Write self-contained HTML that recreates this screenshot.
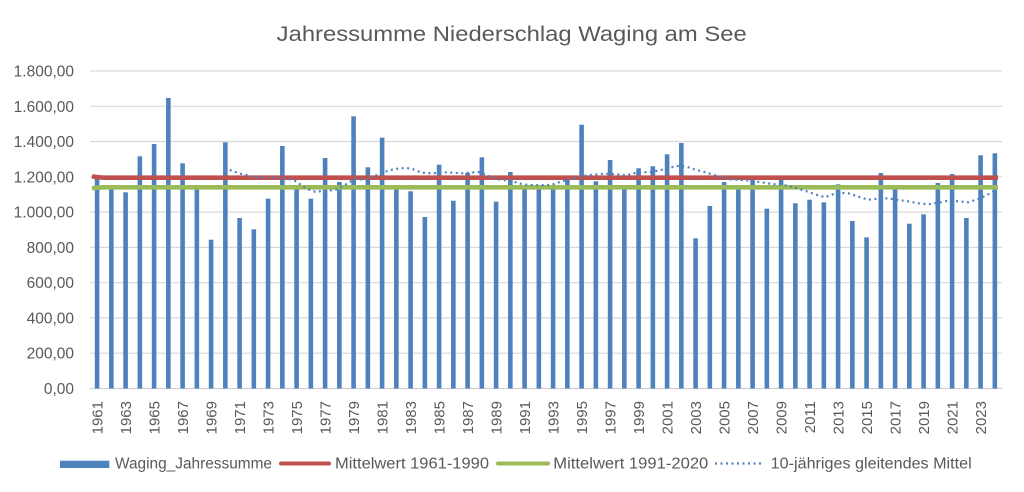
<!DOCTYPE html>
<html><head><meta charset="utf-8"><style>
html,body{margin:0;padding:0;background:#fff;}
svg{display:block;font-family:"Liberation Sans",sans-serif;}
</style></head><body>
<svg width="1024" height="492" viewBox="0 0 1024 492" xmlns="http://www.w3.org/2000/svg">
<rect width="1024" height="492" fill="#fff"/>
<text x="276.7" y="41" font-size="21.5" fill="#595959" textLength="470" lengthAdjust="spacingAndGlyphs">Jahressumme  Niederschlag Waging am See</text>
<g stroke="#d9d9d9" stroke-width="1.2">
<line x1="90" x2="1002" y1="353.2" y2="353.2"/>
<line x1="90" x2="1002" y1="317.9" y2="317.9"/>
<line x1="90" x2="1002" y1="282.7" y2="282.7"/>
<line x1="90" x2="1002" y1="247.4" y2="247.4"/>
<line x1="90" x2="1002" y1="212.1" y2="212.1"/>
<line x1="90" x2="1002" y1="176.8" y2="176.8"/>
<line x1="90" x2="1002" y1="141.5" y2="141.5"/>
<line x1="90" x2="1002" y1="106.3" y2="106.3"/>
<line x1="90" x2="1002" y1="71" y2="71"/>
</g>
<line x1="90" x2="1002" y1="388.5" y2="388.5" stroke="#d0d0d0" stroke-width="1.2"/>
<g font-size="15.5" fill="#595959" text-anchor="end">
<text x="74" y="394">0,00</text>
<text x="74" y="358.7">200,00</text>
<text x="74" y="323.4">400,00</text>
<text x="74" y="288.2">600,00</text>
<text x="74" y="252.9">800,00</text>
<text x="74" y="217.6">1.000,00</text>
<text x="74" y="182.3">1.200,00</text>
<text x="74" y="147">1.400,00</text>
<text x="74" y="111.8">1.600,00</text>
<text x="74" y="76.5">1.800,00</text>
</g>
<g fill="#4f81bd">
<rect x="94.8" y="176.5" width="4.6" height="212"/>
<rect x="109.05" y="188.7" width="4.6" height="199.8"/>
<rect x="123.3" y="192.3" width="4.6" height="196.2"/>
<rect x="137.55" y="156.3" width="4.6" height="232.2"/>
<rect x="151.8" y="144" width="4.6" height="244.5"/>
<rect x="166.05" y="98" width="4.6" height="290.5"/>
<rect x="180.3" y="163.3" width="4.6" height="225.2"/>
<rect x="194.55" y="188.7" width="4.6" height="199.8"/>
<rect x="208.8" y="239.7" width="4.6" height="148.8"/>
<rect x="223.05" y="142.3" width="4.6" height="246.2"/>
<rect x="237.3" y="218" width="4.6" height="170.5"/>
<rect x="251.55" y="229.3" width="4.6" height="159.2"/>
<rect x="265.8" y="198.7" width="4.6" height="189.8"/>
<rect x="280.05" y="146" width="4.6" height="242.5"/>
<rect x="294.3" y="188" width="4.6" height="200.5"/>
<rect x="308.55" y="198.7" width="4.6" height="189.8"/>
<rect x="322.8" y="158" width="4.6" height="230.5"/>
<rect x="337.05" y="182" width="4.6" height="206.5"/>
<rect x="351.3" y="116.3" width="4.6" height="272.2"/>
<rect x="365.55" y="167.3" width="4.6" height="221.2"/>
<rect x="379.8" y="137.7" width="4.6" height="250.8"/>
<rect x="394.05" y="188.5" width="4.6" height="200"/>
<rect x="408.3" y="191.3" width="4.6" height="197.2"/>
<rect x="422.55" y="217" width="4.6" height="171.5"/>
<rect x="436.8" y="164.7" width="4.6" height="223.8"/>
<rect x="451.05" y="200.7" width="4.6" height="187.8"/>
<rect x="465.3" y="173" width="4.6" height="215.5"/>
<rect x="479.55" y="157.3" width="4.6" height="231.2"/>
<rect x="493.8" y="201.7" width="4.6" height="186.8"/>
<rect x="508.05" y="172" width="4.6" height="216.5"/>
<rect x="522.3" y="187" width="4.6" height="201.5"/>
<rect x="536.55" y="188" width="4.6" height="200.5"/>
<rect x="550.8" y="188" width="4.6" height="200.5"/>
<rect x="565.05" y="180" width="4.6" height="208.5"/>
<rect x="579.3" y="124.7" width="4.6" height="263.8"/>
<rect x="593.55" y="181.3" width="4.6" height="207.2"/>
<rect x="607.8" y="160" width="4.6" height="228.5"/>
<rect x="622.05" y="187" width="4.6" height="201.5"/>
<rect x="636.3" y="168.3" width="4.6" height="220.2"/>
<rect x="650.55" y="166.3" width="4.6" height="222.2"/>
<rect x="664.8" y="154.3" width="4.6" height="234.2"/>
<rect x="679.05" y="143" width="4.6" height="245.5"/>
<rect x="693.3" y="238.3" width="4.6" height="150.2"/>
<rect x="707.55" y="206" width="4.6" height="182.5"/>
<rect x="721.8" y="182" width="4.6" height="206.5"/>
<rect x="736.05" y="187" width="4.6" height="201.5"/>
<rect x="750.3" y="180" width="4.6" height="208.5"/>
<rect x="764.55" y="208.7" width="4.6" height="179.8"/>
<rect x="778.8" y="180" width="4.6" height="208.5"/>
<rect x="793.05" y="203.3" width="4.6" height="185.2"/>
<rect x="807.3" y="199.7" width="4.6" height="188.8"/>
<rect x="821.55" y="202.3" width="4.6" height="186.2"/>
<rect x="835.8" y="184.3" width="4.6" height="204.2"/>
<rect x="850.05" y="221" width="4.6" height="167.5"/>
<rect x="864.3" y="237.3" width="4.6" height="151.2"/>
<rect x="878.55" y="173" width="4.6" height="215.5"/>
<rect x="892.8" y="188.3" width="4.6" height="200.2"/>
<rect x="907.05" y="223.7" width="4.6" height="164.8"/>
<rect x="921.3" y="214.3" width="4.6" height="174.2"/>
<rect x="935.55" y="183" width="4.6" height="205.5"/>
<rect x="949.8" y="174" width="4.6" height="214.5"/>
<rect x="964.05" y="218" width="4.6" height="170.5"/>
<rect x="978.3" y="155.3" width="4.6" height="233.2"/>
<rect x="992.55" y="153.3" width="4.6" height="235.2"/>
</g>
<path d="M92,176.3 Q98,177.7 106,177.7 L998,177.7" fill="none" stroke="#c0504d" stroke-width="4.6"/>
<path d="M92,188.3 Q98,187.3 106,187.3 L998,187.3" fill="none" stroke="#9bbb59" stroke-width="4.6"/>
<polyline fill="none" stroke="#4f81bd" stroke-width="2.2" stroke-dasharray="2 3.5" points="229.7,170 235.3,172 240.7,173.7 246.3,175 252,176.7 257.3,177.3 263,177.7 268.3,177.7 274,177.7 279.7,177.7 284.7,178.3 290,179.3 295.3,181 299.7,184 304.7,187.3 309.7,190 315,191.7 335,190 345,185 355,178.7 365,180 375,176 385,171.7 395,169 405,168 411.7,168.7 421.7,172.7 431.7,173.3 445,172.3 461.7,173.3 478.3,172 491.7,177.3 501.7,180 511.7,180.7 518.3,183.3 528.3,185 545,185.3 553.3,184.3 562,181.3 573.3,178.3 583.3,176 593.3,174.7 605,173.7 616.7,174.3 626.7,175.3 633.3,173.3 643.3,172.3 650,172 660,170.3 670,167.7 676.7,166 686.7,166.7 693.3,169 703.3,171.7 713.3,174.7 720,177 730,179.3 740,180 750,180.7 760,182 770,183.7 775,184.3 785,185.3 795,187.7 805,190.7 815,194.3 825,197.3 831.7,194.7 838.3,192.7 848.3,193.3 858.3,196.7 868.3,199.7 878.3,198.7 888.3,198.3 898.3,200 908.3,201.3 918.3,203.3 928.3,204.3 938.3,202.7 948.3,200.7 958.3,201.3 968.3,202.3 978.3,199 985,196 995,190.7"/>
<g font-size="15" fill="#595959" text-anchor="end">
<text transform="translate(102.5,401) rotate(-90)">1961</text>
<text transform="translate(131,401) rotate(-90)">1963</text>
<text transform="translate(159.5,401) rotate(-90)">1965</text>
<text transform="translate(188,401) rotate(-90)">1967</text>
<text transform="translate(216.5,401) rotate(-90)">1969</text>
<text transform="translate(245,401) rotate(-90)">1971</text>
<text transform="translate(273.5,401) rotate(-90)">1973</text>
<text transform="translate(302,401) rotate(-90)">1975</text>
<text transform="translate(330.5,401) rotate(-90)">1977</text>
<text transform="translate(359,401) rotate(-90)">1979</text>
<text transform="translate(387.5,401) rotate(-90)">1981</text>
<text transform="translate(416,401) rotate(-90)">1983</text>
<text transform="translate(444.5,401) rotate(-90)">1985</text>
<text transform="translate(473,401) rotate(-90)">1987</text>
<text transform="translate(501.5,401) rotate(-90)">1989</text>
<text transform="translate(530,401) rotate(-90)">1991</text>
<text transform="translate(558.5,401) rotate(-90)">1993</text>
<text transform="translate(587,401) rotate(-90)">1995</text>
<text transform="translate(615.5,401) rotate(-90)">1997</text>
<text transform="translate(644,401) rotate(-90)">1999</text>
<text transform="translate(672.5,401) rotate(-90)">2001</text>
<text transform="translate(701,401) rotate(-90)">2003</text>
<text transform="translate(729.5,401) rotate(-90)">2005</text>
<text transform="translate(758,401) rotate(-90)">2007</text>
<text transform="translate(786.5,401) rotate(-90)">2009</text>
<text transform="translate(815,401) rotate(-90)">2011</text>
<text transform="translate(843.5,401) rotate(-90)">2013</text>
<text transform="translate(872,401) rotate(-90)">2015</text>
<text transform="translate(900.5,401) rotate(-90)">2017</text>
<text transform="translate(929,401) rotate(-90)">2019</text>
<text transform="translate(957.5,401) rotate(-90)">2021</text>
<text transform="translate(986,401) rotate(-90)">2023</text>
</g>
<rect x="60" y="460.7" width="49.3" height="7.3" fill="#4f81bd"/>
<line x1="281" x2="329" y1="463.5" y2="463.5" stroke="#c0504d" stroke-width="4" stroke-linecap="round"/>
<line x1="498" x2="548" y1="463.5" y2="463.5" stroke="#9bbb59" stroke-width="4" stroke-linecap="round"/>
<line x1="715" x2="762" y1="463.5" y2="463.5" stroke="#4f81bd" stroke-width="2.2" stroke-dasharray="2 3.5"/>
<g font-size="15.5" fill="#595959">
<text x="115" y="468.5" textLength="157" lengthAdjust="spacingAndGlyphs">Waging_Jahressumme</text>
<text x="335" y="468.5" textLength="154" lengthAdjust="spacingAndGlyphs">Mittelwert 1961-1990</text>
<text x="553.3" y="468.5" textLength="155" lengthAdjust="spacingAndGlyphs">Mittelwert 1991-2020</text>
<text x="770.7" y="468.5" textLength="201" lengthAdjust="spacingAndGlyphs">10-jähriges gleitendes Mittel</text>
</g>
</svg>
</body></html>
